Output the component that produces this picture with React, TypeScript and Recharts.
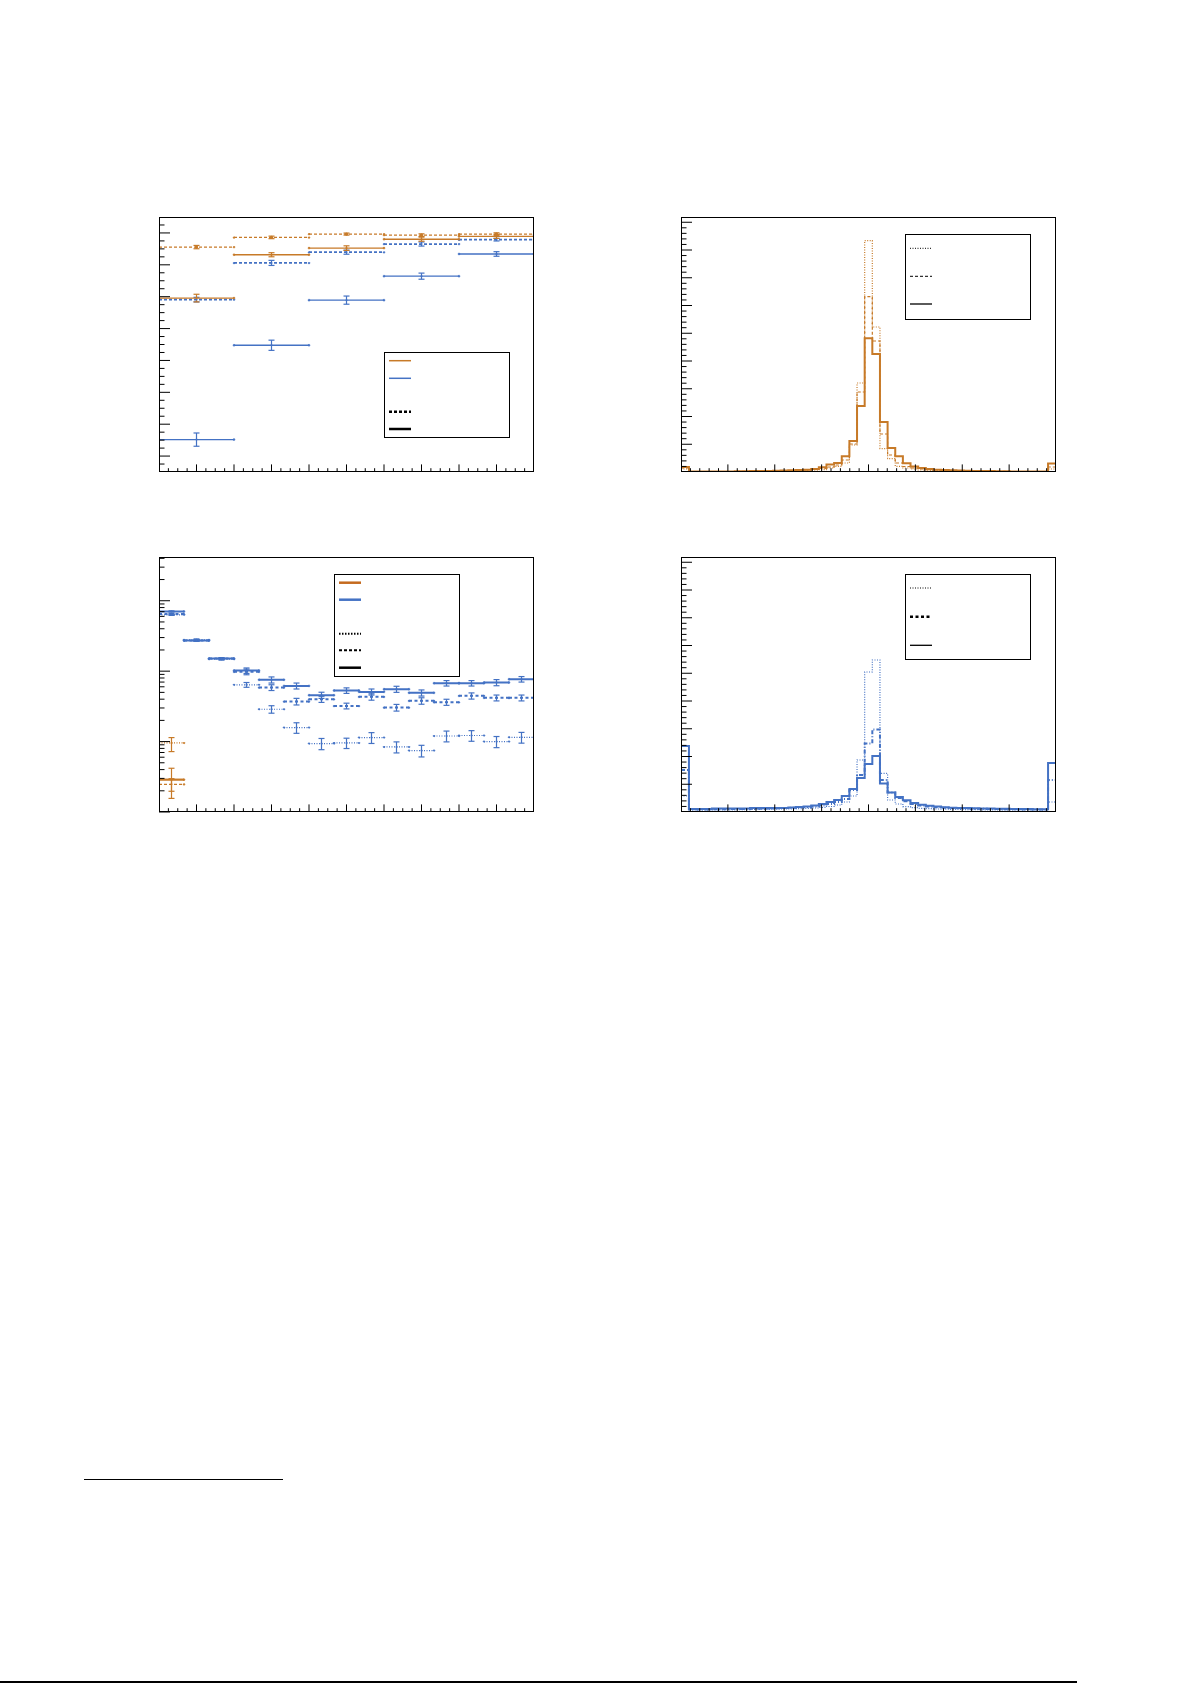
import React from 'react';
import { ComposedChart, Line, Scatter, ErrorBar, XAxis, YAxis } from 'recharts';

const ORANGE = '#C77A28';
const BLUE = '#4472C4';

// ---------- Panel A (top-left): 5 bins, linear y ----------
const aEdges = [0, 2, 4, 6, 8, 10];
const aOrangeDashed = [88.2, 92.0, 93.3, 92.9, 93.3];
const aOrangeDashedErr = [0.65, 0.5, 0.4, 0.5, 0.5];
const aOrangeSolid = [68.2, 85.2, 87.8, 91.3, 92.4];
const aOrangeSolidErr = [1.5, 0.8, 0.9, 0.8, 0.8];
const aBlueDashed = [67.6, 82.0, 86.2, 89.4, 91.1];
const aBlueDashedErr = [0.9, 1.0, 0.8, 0.8, 0.5];
const aBlueSolid = [12.7, 49.7, 67.4, 76.8, 85.5];
const aBlueSolidErr = [2.6, 2.0, 1.6, 1.2, 0.9];
const aXMajor = [1, 2, 3, 4, 5, 6, 7, 8, 9];
const aYMajor = [6.25, 18.75, 31.25, 43.75, 56.25, 68.75, 81.25, 93.75];

// ---------- Panel C (bottom-left): 15 bins, log y ----------
const cEdges = [0, 0.6667, 1.3333, 2, 2.6667, 3.3333, 4, 4.6667, 5.3333, 6, 6.6667, 7.3333, 8, 8.6667, 9.3333, 10];
const cBlueSolid = [705, 273, 151, 102, 75.3, 61.8, 45.6, 53.1, 50.8, 55.5, 49.2, 67.5, 67.5, 69.0, 76.9];
const cBlueSolidErr = [14, 8, 4.5, 9, 7.5, 6, 4.6, 4.8, 5, 5.5, 4.9, 6, 6, 6.9, 6.9];
const cBlueDashed = [646, 273, 151, 97.9, 58.6, 37.1, 40.0, 32.1, 43.2, 30.4, 37.9, 36.3, 44.6, 41.8, 41.8];
const cBlueDashedErr = [13, 8, 4.5, 9, 5.5, 4, 4, 3, 4.5, 3.3, 4, 3.6, 4.5, 4, 4];
const cBlueDotted = [632, 279, 148, 64, 28.8, 15.8, 9.37, 9.57, 11.4, 8.4, 7.45, 12.0, 12.2, 10, 11.5];
const cBlueDottedErr = [13, 8, 4.4, 5, 3.5, 2.7, 1.7, 1.6, 2.0, 1.5, 1.4, 2.1, 2.1, 1.8, 2.0];
const cOrangeSolid = [2.88];
const cOrangeSolidErr = [[1.32, 1.3]];
const cOrangeDashed = [2.47];
const cOrangeDashedErr = [[0.5, 0.5]];
const cOrangeDotted = [9.57];
const cOrangeDottedErr = [[2.36, 1.83]];
const cYMajor = [1, 10, 100, 1000];
const cYMinor = [2, 3, 4, 5, 6, 7, 8, 9, 20, 30, 40, 50, 60, 70, 80, 90, 200, 300, 400, 500, 600, 700, 800, 900, 2000, 3000, 4000];

// ---------- Panels B, D (right): histograms ----------
// bins: left edge bin, 23 bins, centre bin, 23 bins, right edge bin
const bDotted = [3,
  0.3, 0.3, 0.3, 0.3, 0.3, 0.4, 0.4, 0.5, 0.5, 0.6, 0.7, 0.8, 0.9, 1.0, 1.2, 1.4, 1.8, 2.4, 4.0, 5.7, 9.0, 27, 89,
  231.4,
  145, 23.4, 13.4, 5.7, 4, 3, 2, 1.5, 1.2, 1.0, 0.9, 0.8, 0.7, 0.6, 0.5, 0.5, 0.4, 0.4, 0.3, 0.3, 0.3, 0.3, 0.3,
  3];
const bDashed = [4,
  0.4, 0.4, 0.4, 0.4, 0.5, 0.5, 0.6, 0.7, 0.8, 0.9, 1.0, 1.1, 1.3, 1.5, 1.7, 2.0, 2.5, 3.5, 5.0, 7.0, 12, 28, 80,
  175.4,
  131, 38, 17, 9, 5.5, 4, 3, 2.4, 2.0, 1.7, 1.5, 1.3, 1.1, 1.0, 0.9, 0.8, 0.7, 0.6, 0.5, 0.5, 0.4, 0.4, 0.4,
  5];
const bSolid = [5,
  0.5, 0.5, 0.5, 0.5, 0.6, 0.6, 0.7, 0.8, 0.9, 1.0, 1.1, 1.3, 1.5, 1.7, 1.9, 2.2, 3.0, 4.7, 7.4, 9.0, 15.7, 31, 66,
  133.7,
  118, 50, 24, 15.7, 8.7, 5.4, 4, 3, 2.3, 2.0, 1.7, 1.5, 1.3, 1.1, 1.0, 0.9, 0.8, 0.7, 0.6, 0.6, 0.5, 0.5, 0.5,
  8.4];
const dDotted = [16,
  2, 2, 2, 2, 2.2, 2.2, 2.3, 2.4, 2.5, 2.6, 2.7, 2.8, 3, 3.2, 3.4, 3.7, 4, 4.5, 5.5, 7, 10, 16, 52,
  140,
  152, 38.6, 12, 8, 5.3, 4.3, 3.7, 3.3, 3, 2.8, 2.6, 2.5, 2.4, 2.3, 2.2, 2.2, 2.1, 2, 2, 2, 2, 2, 2,
  10];
const dDashed = [42,
  2.5, 2.5, 2.5, 2.8, 2.8, 3, 3, 3, 3.2, 3.3, 3.5, 3.7, 4, 4.3, 4.7, 5, 5.5, 6.5, 8, 10, 13, 22, 37,
  68.6,
  82.6, 32, 19.6, 14, 10.7, 8, 6.5, 5.5, 4.8, 4.3, 4, 3.7, 3.5, 3.3, 3.2, 3, 3, 2.8, 2.8, 2.6, 2.6, 2.5, 2.5,
  32];
const dSolid = [66,
  3, 3, 3, 3.5, 3.5, 3.5, 3.5, 3.5, 4, 4, 4, 4, 4, 4.5, 5, 5.5, 6.5, 8, 10, 12, 16, 23, 34,
  48,
  56, 28.6, 19.6, 15, 11.7, 9, 7.3, 6.3, 5.6, 4.7, 4.3, 4, 4, 3.7, 3.5, 3.5, 3.3, 3.2, 3, 3, 3, 2.8, 2.8,
  49];
const hBinWidth = 0.163;
const hEdges = [-4, ...Array.from({ length: 48 }, (_, k) => +(-3.8305 + hBinWidth * k).toFixed(4)), 4];
const hXMajor = [-3, -2, -1, 0, 1, 2, 3];
const hYMajor = [27.75, 55.5, 83.25, 111, 138.75, 166.5, 194.25, 222, 249.75];

// ---------- helpers ----------
const range = (start: number, stop: number, step: number) => {
  const r: number[] = [];
  for (let v = start; v <= stop + 1e-9; v += step) r.push(+v.toFixed(4));
  return r;
};
const without = (a: number[], b: number[]) => a.filter((v) => !b.some((w) => Math.abs(w - v) < 1e-6));
const isIn = (v: number, b: number[]) => b.some((w) => Math.abs(w - v) < 1e-6);

const lXMinor = without(range(0.25, 9.75, 0.25), aXMajor);
const aYMinor = without(range(3.125, 96.875, 3.125), aYMajor);
const hXMinor = without(range(-3.8, 3.8, 0.2), hXMajor);
const hYMinor = without(range(5.55, 254, 5.55), hYMajor);

const seg = (edges: number[], vals: number[]) => {
  const out: any[] = [];
  vals.forEach((v, i) => {
    out.push({ x: edges[i], y: v });
    out.push({ x: edges[i + 1], y: v });
    out.push({ x: edges[i + 1], y: null });
  });
  return out;
};
const ctr = (edges: number[], vals: number[], errs: any[]) =>
  vals.map((v, i) => ({ x: (edges[i] + edges[i + 1]) / 2, y: v, e: errs[i] }));
const steps = (edges: number[], vals: number[]) => {
  const pts = vals.map((v, i) => ({ x: edges[i], y: v }));
  pts.push({ x: edges[edges.length - 1], y: vals[vals.length - 1] });
  return pts;
};

const FW = 375;
const FH = 255;
const M = 8;

function Panel(props: any) {
  const { x, y, xDomain, yDomain, xMajor, xMinor, yMajor, yMinor, log, children } = props;
  const bottom = M + FH;
  const left = M;
  const xTick = (p: any) => {
    const c = p.payload && p.payload.coordinate != null ? p.payload.coordinate : p.x;
    const len = isIn(p.payload.value, xMajor) ? 7.6 : 3.8;
    return <line x1={c} x2={c} y1={bottom} y2={bottom - len} stroke="#000" strokeWidth={1} />;
  };
  const yTick = (p: any) => {
    const c = p.payload && p.payload.coordinate != null ? p.payload.coordinate : p.y;
    const len = isIn(p.payload.value, yMajor) ? 11 : 5.5;
    return <line x1={left} x2={left + len} y1={c} y2={c} stroke="#000" strokeWidth={1} />;
  };
  return (
    <div style={{ position: 'absolute', left: x - M, top: y - M, width: FW + 2 * M, height: FH + 2 * M }}>
      <ComposedChart width={FW + 2 * M} height={FH + 2 * M} margin={{ top: M, right: M, bottom: M - 1, left: M - 1 }}>
        <XAxis xAxisId="a" type="number" dataKey="x" domain={xDomain} allowDataOverflow
          ticks={[...xMajor, ...xMinor]} interval={0} tick={xTick} tickLine={false} axisLine={false} height={1} />
        <YAxis yAxisId="a" type="number" scale={log ? 'log' : 'linear'} domain={yDomain} allowDataOverflow
          ticks={[...yMajor, ...yMinor]} interval={0} tick={yTick} tickLine={false} axisLine={false} width={1} />
        {children}
      </ComposedChart>
      <div style={{ position: 'absolute', left: M, top: M, width: FW, height: FH, border: '1px solid #000',
        boxSizing: 'border-box', pointerEvents: 'none' }} />
    </div>
  );
}

function segSeries(key: string, edges: number[], vals: number[], errs: any[], color: string, width: number,
  dash: string | undefined, dotR: number, capW: number) {
  return [
    <Line key={key + 'l'} xAxisId="a" yAxisId="a" data={seg(edges, vals)} dataKey="y" stroke={color}
      strokeWidth={width} strokeDasharray={dash} dot={{ r: 1, fill: color, stroke: color, strokeWidth: 0.5 }}
      activeDot={false} isAnimationActive={false} connectNulls={false} />,
    <Scatter key={key + 's'} xAxisId="a" yAxisId="a" data={ctr(edges, vals, errs)} dataKey="y" fill={color}
      isAnimationActive={false}
      shape={(p: any) => <circle cx={p.cx} cy={p.cy} r={dotR} fill={color} />}>
      <ErrorBar dataKey="e" direction="y" width={capW} stroke={color} strokeWidth={1.2} isAnimationActive={false} />
    </Scatter>,
  ];
}

function histSeries(key: string, vals: number[], color: string, width: number, dash?: string) {
  return (
    <Line key={key} xAxisId="a" yAxisId="a" data={steps(hEdges, vals)} dataKey="y" type="stepAfter" stroke={color}
      strokeWidth={width} strokeDasharray={dash} dot={false} activeDot={false} isAnimationActive={false} />
  );
}

function LegendBox(props: any) {
  const { x, y, w, h, x1, x2, entries } = props;
  return (
    <svg style={{ position: 'absolute', left: x, top: y }} width={w} height={h}>
      <rect x={0.5} y={0.5} width={w - 1} height={h - 1} fill="#fff" stroke="#000" strokeWidth={1} />
      {entries.map((e: any, i: number) => (
        <line key={i} x1={x1} x2={x2} y1={e.y} y2={e.y} stroke={e.color} strokeWidth={e.width}
          strokeDasharray={e.dash} />
      ))}
    </svg>
  );
}

export default function App() {
  return (
    <div style={{ position: 'absolute', left: 0, top: 0, width: 1192, height: 1685, background: '#fff',
      fontFamily: 'Liberation Sans, Arial, sans-serif', overflow: 'hidden' }}>
      {/* Top-left */}
      <Panel x={159} y={217} xDomain={[0, 10]} yDomain={[0, 100]} xMajor={aXMajor} xMinor={lXMinor}
        yMajor={aYMajor} yMinor={aYMinor}>
        {segSeries('bs', aEdges, aBlueSolid, aBlueSolidErr, BLUE, 1.3, undefined, 1, 3)}
        {segSeries('bd', aEdges, aBlueDashed, aBlueDashedErr, BLUE, 1.8, '3 2', 1, 3)}
        {segSeries('os', aEdges, aOrangeSolid, aOrangeSolidErr, ORANGE, 1.4, undefined, 1, 3)}
        {segSeries('od', aEdges, aOrangeDashed, aOrangeDashedErr, ORANGE, 1.4, '3 2', 1.7, 3)}
      </Panel>
      <LegendBox x={384} y={352} w={126} h={86} x1={5} x2={27}
        entries={[
          { y: 8.7, color: ORANGE, width: 1.5 },
          { y: 26.3, color: BLUE, width: 1.5 },
          { y: 59.7, color: '#000', width: 2.5, dash: '3 2' },
          { y: 77, color: '#000', width: 2.5 },
        ]} />

      {/* Top-right */}
      <Panel x={681} y={217} xDomain={[-4, 4]} yDomain={[0, 255]} xMajor={hXMajor} xMinor={hXMinor}
        yMajor={hYMajor} yMinor={hYMinor}>
        {histSeries('bdot', bDotted, ORANGE, 1.2, '1 1.5')}
        {histSeries('bdash', bDashed, ORANGE, 1.2, '3 2')}
        {histSeries('bsol', bSolid, ORANGE, 2)}
      </Panel>
      <LegendBox x={905} y={234} w={126} h={86} x1={5} x2={27}
        entries={[
          { y: 14.3, color: '#000', width: 1, dash: '1 1.5' },
          { y: 42.3, color: '#000', width: 1, dash: '3 2' },
          { y: 70, color: '#000', width: 1.3 },
        ]} />

      {/* Bottom-left */}
      <Panel x={159} y={557} xDomain={[0, 10]} yDomain={[1, 4180]} log xMajor={aXMajor} xMinor={lXMinor}
        yMajor={cYMajor} yMinor={cYMinor}>
        {segSeries('cbdot', cEdges, cBlueDotted, cBlueDottedErr, BLUE, 1.2, '1 1.5', 1, 3)}
        {segSeries('cbdash', cEdges, cBlueDashed, cBlueDashedErr, BLUE, 2, '3 2.5', 1, 3)}
        {segSeries('cbsol', cEdges, cBlueSolid, cBlueSolidErr, BLUE, 2, undefined, 1, 3)}
        {segSeries('codot', cEdges, cOrangeDotted, cOrangeDottedErr, ORANGE, 1.2, '1 1.5', 1, 3)}
        {segSeries('codash', cEdges, cOrangeDashed, cOrangeDashedErr, ORANGE, 1.2, '3 2', 1, 3)}
        {segSeries('cosol', cEdges, cOrangeSolid, cOrangeSolidErr, ORANGE, 2.2, undefined, 1, 3)}
      </Panel>
      <LegendBox x={334} y={574} w={126} h={103} x1={5} x2={27}
        entries={[
          { y: 8.7, color: '#C46A1E', width: 2.5 },
          { y: 25.7, color: BLUE, width: 2.5 },
          { y: 59.7, color: '#000', width: 2, dash: '1.5 1.5' },
          { y: 76.3, color: '#000', width: 2, dash: '3 2' },
          { y: 93.7, color: '#000', width: 2.5 },
        ]} />

      {/* Bottom-right */}
      <Panel x={681} y={557} xDomain={[-4, 4]} yDomain={[0, 255]} xMajor={hXMajor} xMinor={hXMinor}
        yMajor={hYMajor} yMinor={hYMinor}>
        {histSeries('ddot', dDotted, BLUE, 1.2, '1 1.5')}
        {histSeries('ddash', dDashed, BLUE, 2, '4 2 1 2')}
        {histSeries('dsol', dSolid, BLUE, 2)}
      </Panel>
      <LegendBox x={905} y={574} w={126} h={86} x1={5} x2={27}
        entries={[
          { y: 14, color: '#000', width: 1, dash: '1 1.5' },
          { y: 42.7, color: '#000', width: 2.5, dash: '3 2.5' },
          { y: 71.3, color: '#000', width: 1.3 },
        ]} />

      {/* footnote rule and page bottom rule */}
      <div style={{ position: 'absolute', left: 84, top: 1479, width: 199, height: 1, background: '#000' }} />
      <div style={{ position: 'absolute', left: 0, top: 1681, width: 1077, height: 2, background: '#000' }} />
    </div>
  );
}
